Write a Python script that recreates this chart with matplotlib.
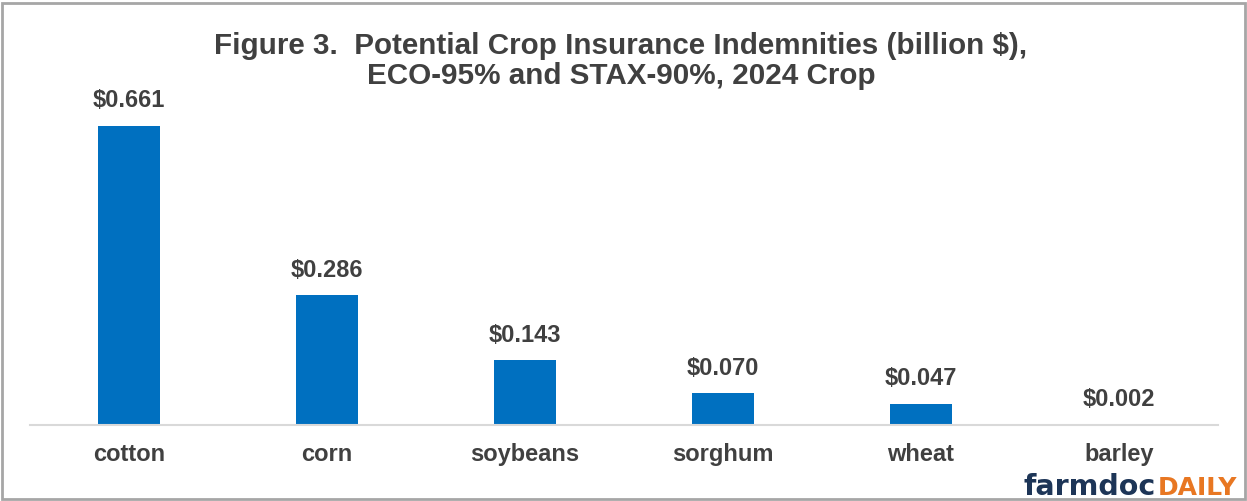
import matplotlib.pyplot as plt
from matplotlib.patches import Rectangle

crops = ['cotton', 'corn', 'soybeans', 'sorghum', 'wheat', 'barley']
indemnities = [0.661, 0.286, 0.143, 0.070, 0.047, 0.002]

plt.rcParams['font.family'] = ['Liberation Sans', 'DejaVu Sans']

fig = plt.figure(figsize=(12.47, 5.01), dpi=100)
ax = fig.add_axes([30 / 1247, 76 / 501, 1188 / 1247, 317 / 501])

x = range(len(crops))
ax.bar(x, indemnities, width=0.31, color='#0070C0', zorder=2)
for xi, v in zip(x, indemnities):
    ax.text(xi, v + 0.03, '${:.3f}'.format(v), ha='center', va='bottom',
            fontsize=17, fontweight='bold', color='#404040')

ax.set_xlim(-0.5, len(crops) - 0.5)
ax.set_ylim(0, 0.7)
ax.set_xticks(list(x))
ax.set_xticklabels(crops, fontsize=17, fontweight='bold', color='#404040')
ax.tick_params(axis='x', length=0, pad=13)
ax.set_yticks([])
for s in ['top', 'right', 'left']:
    ax.spines[s].set_visible(False)
ax.spines['bottom'].set_color('#d9d9d9')
ax.spines['bottom'].set_linewidth(1.5)

fig.text(0.498, 0.878, 'Figure 3.  Potential Crop Insurance Indemnities (billion $),\nECO-95% and STAX-90%, 2024 Crop',
         ha='center', va='center', fontsize=21.3, fontweight='bold', color='#404040',
         linespacing=1.08)

# logo
fig.text(0.8204, 0.012, 'farmdoc', ha='left', va='baseline', fontsize=20.5,
         fontweight='bold', color='#1d3557', family='DejaVu Sans')
fig.text(0.992, 0.012, 'DAILY', ha='right', va='baseline', fontsize=18,
         fontweight='bold', color='#E87722', family='DejaVu Sans')

# frame
fig.patches.append(Rectangle((0.002, 0.004), 0.996, 0.99, transform=fig.transFigure,
                             fill=False, edgecolor='#a6a6a6', linewidth=2))

fig.savefig('out.png', dpi=100)
